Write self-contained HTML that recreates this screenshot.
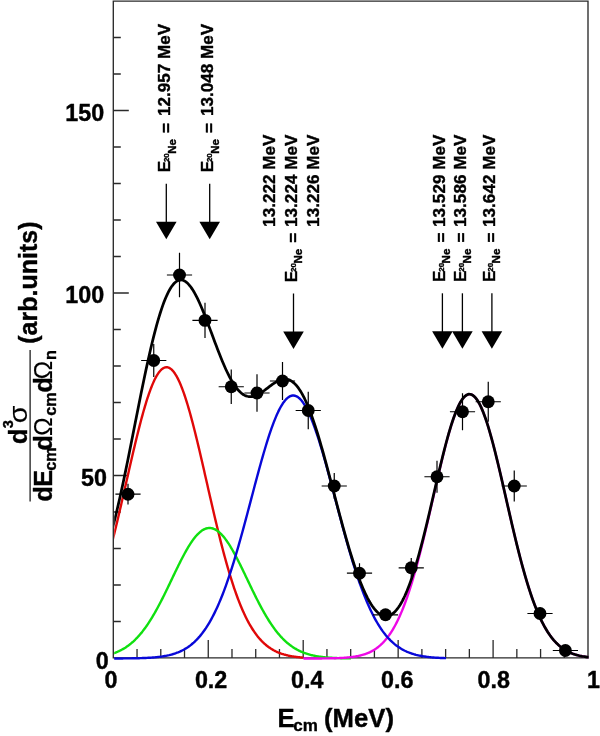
<!DOCTYPE html>
<html><head><meta charset="utf-8"><title>chart</title>
<style>
html,body{margin:0;padding:0;background:#fff;}
body{width:600px;height:736px;overflow:hidden;}
svg{display:block;will-change:transform;}
svg text{font-family:"Liberation Sans",sans-serif;font-weight:bold;fill:#000;stroke:#000;stroke-width:0.4px;stroke-linejoin:round;}
svg text.n{font-weight:normal;stroke-width:0.15px;}
</style></head><body>
<svg width="600" height="736" viewBox="0 0 600 736">
<!-- axes -->
<path d="M113.3,1.1H588.0V657.9H113.3Z" fill="none" stroke="#2a2a2a" stroke-width="1.35"/>
<path d="M137.04,657.9V648.9M160.78,657.9V648.9M184.51,657.9V648.9M208.25,657.9V639.9M231.99,657.9V648.9M255.73,657.9V648.9M279.46,657.9V648.9M303.20,657.9V639.9M326.94,657.9V648.9M350.68,657.9V648.9M374.41,657.9V648.9M398.15,657.9V639.9M421.89,657.9V648.9M445.63,657.9V648.9M469.36,657.9V648.9M493.10,657.9V639.9M516.84,657.9V648.9M540.58,657.9V648.9M564.31,657.9V648.9M113.3,621.50H120.8M113.3,585.00H120.8M113.3,548.50H120.8M113.3,512.00H120.8M113.3,475.50H128.8M113.3,439.00H120.8M113.3,402.50H120.8M113.3,366.00H120.8M113.3,329.50H120.8M113.3,293.00H128.8M113.3,256.50H120.8M113.3,220.00H120.8M113.3,183.50H120.8M113.3,147.00H120.8M113.3,110.50H128.8M113.3,74.00H120.8M113.3,37.50H120.8" stroke="#2a2a2a" stroke-width="1.3" fill="none"/>
<!-- curves -->
<g transform="translate(0,0.5)">
<defs><clipPath id="cp"><rect x="114.2" y="0" width="474.4" height="662"/></clipPath></defs><g clip-path="url(#cp)"><path d="M112.55,540.01 L113.19,537.49 L113.82,534.94 L114.46,532.36 L115.10,529.77 L115.73,527.15 L116.37,524.52 L117.01,521.87 L117.64,519.19 L118.28,516.51 L118.92,513.80 L119.55,511.08 L120.19,508.35 L120.82,505.61 L121.46,502.85 L122.10,500.08 L122.73,497.31 L123.37,494.52 L124.01,491.74 L124.64,488.94 L125.28,486.14 L125.92,483.34 L126.55,480.54 L127.19,477.74 L127.83,474.94 L128.46,472.15 L129.10,469.35 L129.74,466.57 L130.37,463.79 L131.01,461.02 L131.65,458.27 L132.28,455.52 L132.92,452.79 L133.55,450.08 L134.19,447.38 L134.83,444.70 L135.46,442.04 L136.10,439.40 L136.74,436.78 L137.37,434.20 L138.01,431.63 L138.65,429.10 L139.28,426.59 L139.92,424.12 L140.56,421.68 L141.19,419.27 L141.83,416.90 L142.47,414.57 L143.10,412.28 L143.74,410.03 L144.38,407.82 L145.01,405.65 L145.65,403.53 L146.28,401.46 L146.92,399.43 L147.56,397.46 L148.19,395.53 L148.83,393.66 L149.47,391.84 L150.10,390.07 L150.74,388.37 L151.38,386.71 L152.01,385.12 L152.65,383.59 L153.29,382.12 L153.92,380.71 L154.56,379.36 L155.20,378.08 L155.83,376.86 L156.47,375.70 L157.11,374.62 L157.74,373.60 L158.38,372.65 L159.01,371.76 L159.65,370.95 L160.29,370.21 L160.92,369.54 L161.56,368.94 L162.20,368.41 L162.83,367.95 L163.47,367.56 L164.11,367.25 L164.74,367.01 L165.38,366.85 L166.02,366.75 L166.65,366.73 L167.29,366.78 L167.93,366.91 L168.56,367.11 L169.20,367.38 L169.84,367.73 L170.47,368.15 L171.11,368.63 L171.74,369.20 L172.38,369.83 L173.02,370.53 L173.65,371.31 L174.29,372.15 L174.93,373.06 L175.56,374.05 L176.20,375.10 L176.84,376.21 L177.47,377.39 L178.11,378.64 L178.75,379.95 L179.38,381.33 L180.02,382.77 L180.66,384.27 L181.29,385.83 L181.93,387.45 L182.56,389.12 L183.20,390.86 L183.84,392.65 L184.47,394.49 L185.11,396.39 L185.75,398.34 L186.38,400.33 L187.02,402.38 L187.66,404.48 L188.29,406.62 L188.93,408.80 L189.57,411.03 L190.20,413.30 L190.84,415.61 L191.48,417.96 L192.11,420.35 L192.75,422.77 L193.39,425.22 L194.02,427.71 L194.66,430.23 L195.30,432.78 L195.93,435.35 L196.57,437.95 L197.20,440.58 L197.84,443.23 L198.48,445.89 L199.11,448.58 L199.75,451.29 L200.39,454.01 L201.02,456.75 L201.66,459.50 L202.30,462.26 L202.93,465.03 L203.57,467.82 L204.21,470.60 L204.84,473.40 L205.48,476.19 L206.12,478.99 L206.75,481.80 L207.39,484.60 L208.03,487.40 L208.66,490.19 L209.30,492.99 L209.93,495.77 L210.57,498.55 L211.21,501.32 L211.84,504.08 L212.48,506.84 L213.12,509.58 L213.75,512.30 L214.39,515.01 L215.03,517.71 L215.66,520.39 L216.30,523.06 L216.94,525.70 L217.57,528.33 L218.21,530.93 L218.85,533.52 L219.48,536.08 L220.12,538.62 L220.75,541.14 L221.39,543.63 L222.03,546.10 L222.66,548.54 L223.30,550.95 L223.94,553.34 L224.57,555.70 L225.21,558.04 L225.85,560.34 L226.48,562.61 L227.12,564.86 L227.76,567.07 L228.39,569.26 L229.03,571.41 L229.67,573.54 L230.30,575.63 L230.94,577.69 L231.58,579.72 L232.21,581.71 L232.85,583.68 L233.49,585.61 L234.12,587.51 L234.76,589.38 L235.39,591.21 L236.03,593.01 L236.67,594.78 L237.30,596.52 L237.94,598.22 L238.58,599.89 L239.21,601.53 L239.85,603.13 L240.49,604.71 L241.12,606.25 L241.76,607.76 L242.40,609.24 L243.03,610.68 L243.67,612.10 L244.31,613.48 L244.94,614.83 L245.58,616.16 L246.22,617.45 L246.85,618.71 L247.49,619.94 L248.12,621.15 L248.76,622.32 L249.40,623.47 L250.03,624.58 L250.67,625.67 L251.31,626.73 L251.94,627.77 L252.58,628.77 L253.22,629.75 L253.85,630.71 L254.49,631.64 L255.13,632.54 L255.76,633.42 L256.40,634.28 L257.04,635.11 L257.67,635.91 L258.31,636.70 L258.95,637.46 L259.58,638.20 L260.22,638.92 L260.85,639.61 L261.49,640.29 L262.13,640.94 L262.76,641.58 L263.40,642.19 L264.04,642.79 L264.67,643.36 L265.31,643.92 L265.95,644.46 L266.58,644.99 L267.22,645.49 L267.86,645.98 L268.49,646.45 L269.13,646.91 L269.77,647.35 L270.40,647.78 L271.04,648.19 L271.68,648.59 L272.31,648.97 L272.95,649.34 L273.58,649.70 L274.22,650.05 L274.86,650.38 L275.49,650.70 L276.13,651.01 L276.77,651.31 L277.40,651.59 L278.04,651.87 L278.68,652.13 L279.31,652.39 L279.95,652.63 L280.59,652.87 L281.22,653.10 L281.86,653.31 L282.50,653.52 L283.13,653.72 L283.77,653.92 L284.40,654.10 L285.04,654.28 L285.68,654.45 L286.31,654.61 L286.95,654.77 L287.59,654.92 L288.22,655.07 L288.86,655.20 L289.50,655.34 L290.13,655.46 L290.77,655.58 L291.41,655.70 L292.04,655.81 L292.68,655.92 L293.32,656.02 L293.95,656.12 L294.59,656.21 L295.23,656.30 L295.86,656.38 L296.50,656.46 L297.13,656.54 L297.77,656.61 L298.41,656.68 L299.04,656.75 L299.68,656.81 L300.32,656.88 L300.95,656.93 L301.59,656.99 L302.23,657.04 L302.86,657.09 L303.50,657.14" fill="none" stroke="#e00808" stroke-width="2.4" stroke-linejoin="round"/>
<path d="M112.55,653.17 L113.34,652.90 L114.14,652.62 L114.93,652.33 L115.73,652.02 L116.52,651.70 L117.32,651.37 L118.11,651.02 L118.91,650.66 L119.70,650.28 L120.50,649.88 L121.29,649.47 L122.09,649.04 L122.88,648.60 L123.68,648.14 L124.47,647.66 L125.27,647.16 L126.06,646.64 L126.86,646.10 L127.65,645.54 L128.45,644.96 L129.24,644.36 L130.04,643.74 L130.83,643.10 L131.63,642.43 L132.42,641.75 L133.22,641.04 L134.01,640.30 L134.81,639.55 L135.60,638.77 L136.40,637.96 L137.19,637.14 L137.98,636.28 L138.78,635.40 L139.57,634.50 L140.37,633.57 L141.16,632.62 L141.96,631.64 L142.75,630.63 L143.55,629.60 L144.34,628.55 L145.14,627.46 L145.93,626.36 L146.73,625.22 L147.52,624.06 L148.32,622.88 L149.11,621.67 L149.91,620.43 L150.70,619.17 L151.50,617.89 L152.29,616.58 L153.09,615.24 L153.88,613.89 L154.68,612.51 L155.47,611.11 L156.27,609.69 L157.06,608.24 L157.86,606.78 L158.65,605.29 L159.45,603.79 L160.24,602.27 L161.03,600.73 L161.83,599.17 L162.62,597.60 L163.42,596.02 L164.21,594.42 L165.01,592.81 L165.80,591.19 L166.60,589.56 L167.39,587.92 L168.19,586.27 L168.98,584.61 L169.78,582.95 L170.57,581.29 L171.37,579.63 L172.16,577.96 L172.96,576.29 L173.75,574.63 L174.55,572.97 L175.34,571.32 L176.14,569.67 L176.93,568.04 L177.73,566.41 L178.52,564.79 L179.32,563.19 L180.11,561.60 L180.91,560.03 L181.70,558.48 L182.50,556.95 L183.29,555.44 L184.09,553.95 L184.88,552.49 L185.67,551.06 L186.47,549.65 L187.26,548.28 L188.06,546.93 L188.85,545.62 L189.65,544.35 L190.44,543.11 L191.24,541.91 L192.03,540.75 L192.83,539.63 L193.62,538.55 L194.42,537.51 L195.21,536.52 L196.01,535.58 L196.80,534.68 L197.60,533.83 L198.39,533.04 L199.19,532.29 L199.98,531.59 L200.78,530.95 L201.57,530.36 L202.37,529.82 L203.16,529.34 L203.96,528.91 L204.75,528.54 L205.55,528.23 L206.34,527.97 L207.14,527.77 L207.93,527.62 L208.72,527.54 L209.52,527.51 L210.31,527.54 L211.11,527.63 L211.90,527.78 L212.70,527.98 L213.49,528.24 L214.29,528.56 L215.08,528.93 L215.88,529.36 L216.67,529.85 L217.47,530.39 L218.26,530.98 L219.06,531.63 L219.85,532.33 L220.65,533.08 L221.44,533.88 L222.24,534.73 L223.03,535.63 L223.83,536.58 L224.62,537.57 L225.42,538.61 L226.21,539.69 L227.01,540.81 L227.80,541.97 L228.60,543.18 L229.39,544.42 L230.19,545.70 L230.98,547.01 L231.78,548.35 L232.57,549.73 L233.36,551.14 L234.16,552.57 L234.95,554.04 L235.75,555.52 L236.54,557.03 L237.34,558.57 L238.13,560.12 L238.93,561.69 L239.72,563.28 L240.52,564.88 L241.31,566.50 L242.11,568.13 L242.90,569.76 L243.70,571.41 L244.49,573.07 L245.29,574.72 L246.08,576.39 L246.88,578.05 L247.67,579.72 L248.47,581.38 L249.26,583.05 L250.06,584.71 L250.85,586.36 L251.65,588.01 L252.44,589.65 L253.24,591.28 L254.03,592.90 L254.83,594.51 L255.62,596.11 L256.41,597.69 L257.21,599.26 L258.00,600.82 L258.80,602.35 L259.59,603.87 L260.39,605.38 L261.18,606.86 L261.98,608.32 L262.77,609.77 L263.57,611.19 L264.36,612.59 L265.16,613.96 L265.95,615.32 L266.75,616.65 L267.54,617.96 L268.34,619.24 L269.13,620.50 L269.93,621.73 L270.72,622.94 L271.52,624.13 L272.31,625.28 L273.11,626.42 L273.90,627.52 L274.70,628.61 L275.49,629.66 L276.29,630.69 L277.08,631.69 L277.88,632.67 L278.67,633.62 L279.47,634.55 L280.26,635.45 L281.05,636.33 L281.85,637.18 L282.64,638.01 L283.44,638.81 L284.23,639.59 L285.03,640.35 L285.82,641.08 L286.62,641.79 L287.41,642.47 L288.21,643.14 L289.00,643.78 L289.80,644.40 L290.59,644.99 L291.39,645.57 L292.18,646.13 L292.98,646.67 L293.77,647.18 L294.57,647.68 L295.36,648.16 L296.16,648.62 L296.95,649.07 L297.75,649.50 L298.54,649.91 L299.34,650.30 L300.13,650.68 L300.93,651.04 L301.72,651.39 L302.52,651.72 L303.31,652.04 L304.10,652.34 L304.90,652.63 L305.69,652.91 L306.49,653.18 L307.28,653.43 L308.08,653.68 L308.87,653.91 L309.67,654.13 L310.46,654.34 L311.26,654.54 L312.05,654.73 L312.85,654.92 L313.64,655.09 L314.44,655.25 L315.23,655.41 L316.03,655.56 L316.82,655.70 L317.62,655.83 L318.41,655.96 L319.21,656.08 L320.00,656.20 L320.80,656.30 L321.59,656.41 L322.39,656.50 L323.18,656.60 L323.98,656.68 L324.77,656.76 L325.57,656.84 L326.36,656.91 L327.15,656.98 L327.95,657.05 L328.74,657.11 L329.54,657.17 L330.33,657.22 L331.13,657.27 L331.92,657.32 L332.72,657.36 L333.51,657.41 L334.31,657.45 L335.10,657.48 L335.90,657.52 L336.69,657.55 L337.49,657.58 L338.28,657.61 L339.08,657.64 L339.87,657.66 L340.67,657.69 L341.46,657.71 L342.26,657.73 L343.05,657.75 L343.85,657.77 L344.64,657.78 L345.44,657.80 L346.23,657.81 L347.03,657.83 L347.82,657.84 L348.62,657.85 L349.41,657.86 L350.21,657.87 L351.00,657.88" fill="none" stroke="#10e010" stroke-width="2.4" stroke-linejoin="round"/>
<path d="M303.50,657.99 L304.45,657.99 L305.40,657.99 L306.35,657.99 L307.30,657.99 L308.25,657.98 L309.20,657.98 L310.15,657.98 L311.10,657.98 L312.05,657.98 L313.00,657.97 L313.95,657.97 L314.90,657.97 L315.85,657.96 L316.80,657.96 L317.75,657.95 L318.70,657.95 L319.65,657.94 L320.60,657.94 L321.55,657.93 L322.50,657.92 L323.45,657.91 L324.40,657.90 L325.35,657.89 L326.30,657.88 L327.25,657.87 L328.20,657.85 L329.15,657.84 L330.10,657.82 L331.05,657.80 L332.00,657.78 L332.95,657.76 L333.90,657.74 L334.85,657.71 L335.80,657.68 L336.75,657.65 L337.70,657.61 L338.65,657.58 L339.60,657.53 L340.55,657.49 L341.50,657.44 L342.45,657.39 L343.40,657.33 L344.35,657.27 L345.30,657.20 L346.25,657.12 L347.20,657.04 L348.15,656.96 L349.10,656.86 L350.05,656.76 L351.00,656.65 L351.95,656.53 L352.90,656.40 L353.85,656.27 L354.80,656.12 L355.75,655.96 L356.70,655.78 L357.65,655.60 L358.60,655.40 L359.55,655.19 L360.50,654.96 L361.45,654.71 L362.40,654.45 L363.35,654.17 L364.30,653.87 L365.25,653.55 L366.20,653.21 L367.15,652.84 L368.10,652.46 L369.05,652.04 L370.00,651.60 L370.95,651.13 L371.90,650.63 L372.85,650.10 L373.80,649.54 L374.75,648.95 L375.70,648.32 L376.65,647.65 L377.60,646.94 L378.55,646.20 L379.50,645.41 L380.45,644.58 L381.40,643.70 L382.35,642.78 L383.30,641.81 L384.25,640.79 L385.20,639.71 L386.15,638.59 L387.10,637.40 L388.05,636.16 L389.00,634.86 L389.95,633.50 L390.90,632.08 L391.85,630.59 L392.80,629.04 L393.75,627.42 L394.70,625.73 L395.65,623.97 L396.60,622.14 L397.55,620.24 L398.50,618.26 L399.45,616.21 L400.40,614.08 L401.35,611.88 L402.30,609.59 L403.25,607.23 L404.20,604.79 L405.15,602.27 L406.10,599.67 L407.05,596.99 L408.00,594.23 L408.95,591.39 L409.90,588.47 L410.85,585.47 L411.80,582.40 L412.75,579.24 L413.70,576.01 L414.65,572.71 L415.60,569.33 L416.55,565.88 L417.50,562.37 L418.45,558.78 L419.40,555.14 L420.35,551.43 L421.30,547.66 L422.25,543.83 L423.20,539.95 L424.15,536.03 L425.10,532.06 L426.05,528.04 L427.00,523.99 L427.95,519.91 L428.90,515.80 L429.85,511.67 L430.80,507.52 L431.75,503.35 L432.70,499.18 L433.65,495.01 L434.60,490.84 L435.55,486.67 L436.50,482.53 L437.45,478.41 L438.40,474.31 L439.35,470.25 L440.30,466.23 L441.25,462.25 L442.20,458.33 L443.15,454.47 L444.10,450.67 L445.05,446.95 L446.00,443.30 L446.95,439.74 L447.90,436.28 L448.85,432.90 L449.80,429.64 L450.75,426.48 L451.70,423.44 L452.65,420.52 L453.60,417.72 L454.55,415.06 L455.50,412.53 L456.45,410.15 L457.40,407.91 L458.35,405.83 L459.30,403.89 L460.25,402.12 L461.20,400.51 L462.15,399.07 L463.10,397.79 L464.05,396.69 L465.00,395.75 L465.95,395.00 L466.90,394.42 L467.85,394.01 L468.80,393.79 L469.75,393.75 L470.70,393.88 L471.65,394.19 L472.60,394.68 L473.55,395.35 L474.50,396.20 L475.45,397.22 L476.40,398.41 L477.35,399.77 L478.30,401.30 L479.25,402.99 L480.20,404.84 L481.15,406.85 L482.10,409.01 L483.05,411.32 L484.00,413.78 L484.95,416.37 L485.90,419.10 L486.85,421.96 L487.80,424.94 L488.75,428.04 L489.70,431.26 L490.65,434.58 L491.60,438.00 L492.55,441.51 L493.50,445.12 L494.45,448.80 L495.40,452.56 L496.35,456.39 L497.30,460.29 L498.25,464.23 L499.20,468.23 L500.15,472.28 L501.10,476.35 L502.05,480.47 L503.00,484.60 L503.95,488.75 L504.90,492.92 L505.85,497.09 L506.80,501.27 L507.75,505.43 L508.70,509.59 L509.65,513.74 L510.60,517.86 L511.55,521.96 L512.50,526.02 L513.45,530.05 L514.40,534.05 L515.35,538.00 L516.30,541.90 L517.25,545.75 L518.20,549.55 L519.15,553.29 L520.10,556.97 L521.05,560.58 L522.00,564.13 L522.95,567.62 L523.90,571.03 L524.85,574.37 L525.80,577.64 L526.75,580.83 L527.70,583.94 L528.65,586.98 L529.60,589.94 L530.55,592.82 L531.50,595.62 L532.45,598.34 L533.40,600.98 L534.35,603.54 L535.30,606.02 L536.25,608.42 L537.20,610.75 L538.15,612.99 L539.10,615.16 L540.05,617.25 L541.00,619.26 L541.95,621.20 L542.90,623.07 L543.85,624.86 L544.80,626.58 L545.75,628.24 L546.70,629.82 L547.65,631.34 L548.60,632.80 L549.55,634.19 L550.50,635.52 L551.45,636.79 L552.40,638.00 L553.35,639.16 L554.30,640.26 L555.25,641.31 L556.20,642.30 L557.15,643.25 L558.10,644.15 L559.05,645.00 L560.00,645.81 L560.95,646.58 L561.90,647.30 L562.85,647.99 L563.80,648.64 L564.75,649.25 L565.70,649.83 L566.65,650.37 L567.60,650.89 L568.55,651.37 L569.50,651.82 L570.45,652.25 L571.40,652.65 L572.35,653.03 L573.30,653.38 L574.25,653.71 L575.20,654.02 L576.15,654.31 L577.10,654.59 L578.05,654.84 L579.00,655.08 L579.95,655.30 L580.90,655.50 L581.85,655.69 L582.80,655.87 L583.75,656.04 L584.70,656.19 L585.65,656.34 L586.60,656.47 L587.55,656.59 L588.50,656.71" fill="none" stroke="#ee08e6" stroke-width="2.4" stroke-linejoin="round"/>
<path d="M112.55,657.97 L113.66,657.97 L114.77,657.97 L115.88,657.96 L117.00,657.96 L118.11,657.96 L119.22,657.95 L120.33,657.94 L121.44,657.94 L122.55,657.93 L123.66,657.92 L124.78,657.91 L125.89,657.90 L127.00,657.89 L128.11,657.88 L129.22,657.87 L130.33,657.86 L131.45,657.84 L132.56,657.82 L133.67,657.80 L134.78,657.78 L135.89,657.76 L137.00,657.74 L138.11,657.71 L139.23,657.68 L140.34,657.65 L141.45,657.61 L142.56,657.57 L143.67,657.53 L144.78,657.49 L145.89,657.43 L147.01,657.38 L148.12,657.32 L149.23,657.26 L150.34,657.19 L151.45,657.11 L152.56,657.03 L153.68,656.94 L154.79,656.84 L155.90,656.74 L157.01,656.62 L158.12,656.50 L159.23,656.37 L160.34,656.22 L161.46,656.07 L162.57,655.90 L163.68,655.72 L164.79,655.53 L165.90,655.32 L167.01,655.10 L168.12,654.86 L169.24,654.61 L170.35,654.33 L171.46,654.04 L172.57,653.73 L173.68,653.39 L174.79,653.03 L175.91,652.65 L177.02,652.24 L178.13,651.81 L179.24,651.35 L180.35,650.86 L181.46,650.33 L182.57,649.78 L183.69,649.19 L184.80,648.56 L185.91,647.90 L187.02,647.20 L188.13,646.46 L189.24,645.67 L190.36,644.84 L191.47,643.97 L192.58,643.04 L193.69,642.07 L194.80,641.05 L195.91,639.97 L197.02,638.84 L198.14,637.65 L199.25,636.41 L200.36,635.10 L201.47,633.73 L202.58,632.30 L203.69,630.80 L204.80,629.23 L205.92,627.60 L207.03,625.89 L208.14,624.11 L209.25,622.26 L210.36,620.34 L211.47,618.34 L212.58,616.26 L213.70,614.10 L214.81,611.87 L215.92,609.55 L217.03,607.15 L218.14,604.68 L219.25,602.12 L220.37,599.47 L221.48,596.75 L222.59,593.94 L223.70,591.06 L224.81,588.09 L225.92,585.04 L227.03,581.91 L228.15,578.70 L229.26,575.42 L230.37,572.06 L231.48,568.62 L232.59,565.11 L233.70,561.54 L234.81,557.89 L235.93,554.18 L237.04,550.41 L238.15,546.57 L239.26,542.68 L240.37,538.74 L241.48,534.75 L242.60,530.72 L243.71,526.65 L244.82,522.54 L245.93,518.40 L247.04,514.23 L248.15,510.04 L249.26,505.84 L250.38,501.63 L251.49,497.41 L252.60,493.20 L253.71,488.99 L254.82,484.79 L255.93,480.62 L257.04,476.47 L258.16,472.36 L259.27,468.28 L260.38,464.25 L261.49,460.27 L262.60,456.36 L263.71,452.50 L264.83,448.73 L265.94,445.03 L267.05,441.41 L268.16,437.89 L269.27,434.47 L270.38,431.15 L271.49,427.95 L272.61,424.86 L273.72,421.90 L274.83,419.07 L275.94,416.37 L277.05,413.81 L278.16,411.40 L279.27,409.14 L280.39,407.03 L281.50,405.08 L282.61,403.29 L283.72,401.67 L284.83,400.22 L285.94,398.95 L287.06,397.85 L288.17,396.93 L289.28,396.18 L290.39,395.62 L291.50,395.24 L292.61,395.05 L293.72,395.03 L294.84,395.21 L295.95,395.56 L297.06,396.10 L298.17,396.82 L299.28,397.72 L300.39,398.80 L301.50,400.05 L302.62,401.48 L303.73,403.08 L304.84,404.84 L305.95,406.77 L307.06,408.86 L308.17,411.10 L309.29,413.49 L310.40,416.03 L311.51,418.71 L312.62,421.53 L313.73,424.48 L314.84,427.55 L315.95,430.74 L317.07,434.04 L318.18,437.45 L319.29,440.96 L320.40,444.56 L321.51,448.25 L322.62,452.02 L323.74,455.86 L324.85,459.77 L325.96,463.74 L327.07,467.76 L328.18,471.83 L329.29,475.94 L330.40,480.09 L331.52,484.26 L332.63,488.45 L333.74,492.66 L334.85,496.87 L335.96,501.09 L337.07,505.30 L338.18,509.51 L339.30,513.70 L340.41,517.86 L341.52,522.01 L342.63,526.12 L343.74,530.20 L344.85,534.24 L345.96,538.23 L347.08,542.18 L348.19,546.08 L349.30,549.92 L350.41,553.70 L351.52,557.42 L352.63,561.07 L353.75,564.66 L354.86,568.18 L355.97,571.62 L357.08,574.99 L358.19,578.29 L359.30,581.50 L360.41,584.64 L361.53,587.70 L362.64,590.68 L363.75,593.58 L364.86,596.40 L365.97,599.13 L367.08,601.78 L368.19,604.35 L369.31,606.84 L370.42,609.25 L371.53,611.57 L372.64,613.82 L373.75,615.99 L374.86,618.08 L375.98,620.09 L377.09,622.02 L378.20,623.88 L379.31,625.67 L380.42,627.38 L381.53,629.03 L382.64,630.60 L383.76,632.11 L384.87,633.55 L385.98,634.93 L387.09,636.24 L388.20,637.50 L389.31,638.69 L390.42,639.83 L391.54,640.91 L392.65,641.94 L393.76,642.92 L394.87,643.85 L395.98,644.73 L397.09,645.57 L398.21,646.36 L399.32,647.10 L400.43,647.81 L401.54,648.48 L402.65,649.11 L403.76,649.70 L404.87,650.26 L405.99,650.79 L407.10,651.29 L408.21,651.75 L409.32,652.19 L410.43,652.60 L411.54,652.99 L412.66,653.35 L413.77,653.69 L414.88,654.00 L415.99,654.30 L417.10,654.57 L418.21,654.83 L419.32,655.07 L420.44,655.30 L421.55,655.51 L422.66,655.70 L423.77,655.88 L424.88,656.05 L425.99,656.20 L427.10,656.35 L428.22,656.48 L429.33,656.61 L430.44,656.72 L431.55,656.83 L432.66,656.93 L433.77,657.02 L434.88,657.10 L436.00,657.18 L437.11,657.25 L438.22,657.31 L439.33,657.37 L440.44,657.43 L441.55,657.48 L442.67,657.53 L443.78,657.57 L444.89,657.61 L446.00,657.64" fill="none" stroke="#0808d8" stroke-width="2.4" stroke-linejoin="round"/>
<path d="M112.55,527.35 L113.74,522.81 L114.93,518.12 L116.13,513.28 L117.32,508.29 L118.51,503.18 L119.70,497.93 L120.90,492.57 L122.09,487.11 L123.28,481.54 L124.47,475.88 L125.66,470.15 L126.86,464.34 L128.05,458.47 L129.24,452.54 L130.43,446.58 L131.63,440.57 L132.82,434.55 L134.01,428.51 L135.20,422.47 L136.39,416.44 L137.59,410.42 L138.78,404.43 L139.97,398.48 L141.16,392.57 L142.36,386.73 L143.55,380.95 L144.74,375.25 L145.93,369.64 L147.13,364.12 L148.32,358.72 L149.51,353.43 L150.70,348.26 L151.89,343.23 L153.09,338.35 L154.28,333.61 L155.47,329.04 L156.66,324.64 L157.86,320.40 L159.05,316.35 L160.24,312.49 L161.43,308.83 L162.62,305.36 L163.82,302.09 L165.01,299.04 L166.20,296.20 L167.39,293.57 L168.59,291.17 L169.78,288.98 L170.97,287.02 L172.16,285.29 L173.35,283.78 L174.55,282.50 L175.74,281.44 L176.93,280.61 L178.12,280.00 L179.32,279.62 L180.51,279.45 L181.70,279.50 L182.89,279.76 L184.09,280.22 L185.28,280.90 L186.47,281.77 L187.66,282.83 L188.85,284.08 L190.05,285.51 L191.24,287.11 L192.43,288.88 L193.62,290.80 L194.82,292.88 L196.01,295.10 L197.20,297.45 L198.39,299.92 L199.58,302.51 L200.78,305.21 L201.97,308.00 L203.16,310.88 L204.35,313.83 L205.55,316.85 L206.74,319.93 L207.93,323.05 L209.12,326.21 L210.31,329.39 L211.51,332.59 L212.70,335.79 L213.89,338.99 L215.08,342.18 L216.28,345.34 L217.47,348.47 L218.66,351.55 L219.85,354.59 L221.04,357.56 L222.24,360.47 L223.43,363.30 L224.62,366.05 L225.81,368.70 L227.01,371.26 L228.20,373.71 L229.39,376.06 L230.58,378.29 L231.78,380.40 L232.97,382.38 L234.16,384.24 L235.35,385.97 L236.54,387.56 L237.74,389.02 L238.93,390.34 L240.12,391.53 L241.31,392.57 L242.51,393.48 L243.70,394.25 L244.89,394.89 L246.08,395.40 L247.27,395.77 L248.47,396.02 L249.66,396.15 L250.85,396.16 L252.04,396.06 L253.24,395.85 L254.43,395.54 L255.62,395.13 L256.81,394.63 L258.00,394.06 L259.20,393.41 L260.39,392.70 L261.58,391.93 L262.77,391.11 L263.97,390.25 L265.16,389.36 L266.35,388.46 L267.54,387.54 L268.73,386.61 L269.93,385.70 L271.12,384.80 L272.31,383.93 L273.50,383.09 L274.70,382.30 L275.89,381.56 L277.08,380.89 L278.27,380.29 L279.47,379.76 L280.66,379.33 L281.85,378.99 L283.04,378.75 L284.23,378.63 L285.43,378.62 L286.62,378.74 L287.81,378.98 L289.00,379.36 L290.20,379.88 L291.39,380.54 L292.58,381.35 L293.77,382.31 L294.96,383.42 L296.16,384.69 L297.35,386.12 L298.54,387.70 L299.73,389.44 L300.93,391.34 L302.12,393.40 L303.31,395.61 L304.50,397.98 L305.69,400.50 L306.89,403.17 L308.08,405.99 L309.27,408.95 L310.46,412.04 L311.66,415.28 L312.85,418.64 L314.04,422.12 L315.23,425.73 L316.42,429.44 L317.62,433.26 L318.81,437.18 L320.00,441.20 L321.19,445.30 L322.39,449.48 L323.58,453.73 L324.77,458.04 L325.96,462.41 L327.15,466.83 L328.35,471.29 L329.54,475.78 L330.73,480.30 L331.92,484.84 L333.12,489.39 L334.31,493.94 L335.50,498.49 L336.69,503.03 L337.89,507.55 L339.08,512.04 L340.27,516.50 L341.46,520.93 L342.65,525.31 L343.85,529.63 L345.04,533.90 L346.23,538.11 L347.42,542.25 L348.62,546.31 L349.81,550.30 L351.00,554.20 L352.19,558.02 L353.38,561.74 L354.58,565.36 L355.77,568.88 L356.96,572.30 L358.15,575.61 L359.35,578.81 L360.54,581.89 L361.73,584.85 L362.92,587.70 L364.11,590.41 L365.31,593.01 L366.50,595.47 L367.69,597.80 L368.88,600.00 L370.08,602.06 L371.27,603.99 L372.46,605.77 L373.65,607.42 L374.85,608.92 L376.04,610.27 L377.23,611.48 L378.42,612.54 L379.61,613.45 L380.81,614.21 L382.00,614.82 L383.19,615.27 L384.38,615.57 L385.58,615.71 L386.77,615.69 L387.96,615.51 L389.15,615.17 L390.34,614.67 L391.54,614.00 L392.73,613.17 L393.92,612.18 L395.11,611.02 L396.31,609.70 L397.50,608.20 L398.69,606.55 L399.88,604.72 L401.07,602.73 L402.27,600.57 L403.46,598.25 L404.65,595.76 L405.84,593.10 L407.04,590.29 L408.23,587.31 L409.42,584.18 L410.61,580.89 L411.80,577.45 L413.00,573.86 L414.19,570.13 L415.38,566.25 L416.57,562.24 L417.77,558.10 L418.96,553.84 L420.15,549.45 L421.34,544.95 L422.54,540.35 L423.73,535.65 L424.92,530.87 L426.11,526.00 L427.30,521.06 L428.50,516.06 L429.69,511.01 L430.88,505.93 L432.07,500.81 L433.27,495.67 L434.46,490.53 L435.65,485.39 L436.84,480.27 L438.03,475.19 L439.23,470.14 L440.42,465.16 L441.61,460.24 L442.80,455.40 L444.00,450.66 L445.19,446.03 L446.38,441.52 L447.57,437.15 L448.76,432.92 L449.96,428.86 L451.15,424.96 L452.34,421.25 L453.53,417.73 L454.73,414.42 L455.92,411.32 L457.11,408.45 L458.30,405.81 L459.49,403.41 L460.69,401.27 L461.88,399.38 L463.07,397.75 L464.26,396.39 L465.46,395.31 L466.65,394.50 L467.84,393.97 L469.03,393.72 L470.23,393.75 L471.42,394.07 L472.61,394.66 L473.80,395.53 L474.99,396.68 L476.19,398.11 L477.38,399.79 L478.57,401.75 L479.76,403.96 L480.96,406.41 L482.15,409.11 L483.34,412.05 L484.53,415.21 L485.72,418.58 L486.92,422.16 L488.11,425.93 L489.30,429.89 L490.49,434.02 L491.69,438.31 L492.88,442.74 L494.07,447.32 L495.26,452.01 L496.45,456.82 L497.65,461.72 L498.84,466.71 L500.03,471.77 L501.22,476.89 L502.42,482.05 L503.61,487.26 L504.80,492.48 L505.99,497.72 L507.18,502.95 L508.38,508.18 L509.57,513.38 L510.76,518.56 L511.95,523.69 L513.15,528.77 L514.34,533.79 L515.53,538.74 L516.72,543.62 L517.91,548.41 L519.11,553.12 L520.30,557.73 L521.49,562.24 L522.68,566.65 L523.88,570.95 L525.07,575.13 L526.26,579.19 L527.45,583.14 L528.65,586.97 L529.84,590.67 L531.03,594.24 L532.22,597.69 L533.41,601.02 L534.61,604.22 L535.80,607.29 L536.99,610.24 L538.18,613.07 L539.38,615.77 L540.57,618.35 L541.76,620.82 L542.95,623.17 L544.14,625.40 L545.34,627.53 L546.53,629.54 L547.72,631.46 L548.91,633.26 L550.11,634.98 L551.30,636.59 L552.49,638.11 L553.68,639.55 L554.87,640.90 L556.07,642.17 L557.26,643.35 L558.45,644.47 L559.64,645.51 L560.84,646.49 L562.03,647.40 L563.22,648.25 L564.41,649.04 L565.61,649.77 L566.80,650.45 L567.99,651.09 L569.18,651.67 L570.37,652.22 L571.57,652.72 L572.76,653.18 L573.95,653.61 L575.14,654.01 L576.34,654.37 L577.53,654.70 L578.72,655.01 L579.91,655.29 L581.10,655.54 L582.30,655.78 L583.49,655.99 L584.68,656.19 L585.87,656.37 L587.07,656.53 L588.26,656.68 L589.45,656.81" fill="none" stroke="#000" stroke-width="2.75" stroke-linejoin="round"/></g>
<!-- points -->
<path d="M115.40,493.70H140.60M128.00,483.30V504.10" stroke="#000" stroke-width="1.2" fill="none"/>
<circle cx="128.00" cy="493.70" r="6.45" fill="#000"/>
<path d="M141.15,360.00H166.35M153.75,343.40V376.60" stroke="#000" stroke-width="1.2" fill="none"/>
<circle cx="153.75" cy="360.00" r="6.45" fill="#000"/>
<path d="M166.90,274.50H192.10M179.50,252.30V296.70" stroke="#000" stroke-width="1.2" fill="none"/>
<circle cx="179.50" cy="274.50" r="6.45" fill="#000"/>
<path d="M192.40,319.90H217.60M205.00,302.30V337.50" stroke="#000" stroke-width="1.2" fill="none"/>
<circle cx="205.00" cy="319.90" r="6.45" fill="#000"/>
<path d="M218.65,386.25H243.85M231.25,368.95V403.55" stroke="#000" stroke-width="1.2" fill="none"/>
<circle cx="231.25" cy="386.25" r="6.45" fill="#000"/>
<path d="M244.40,392.50H269.60M257.00,373.75V411.25" stroke="#000" stroke-width="1.2" fill="none"/>
<circle cx="257.00" cy="392.50" r="6.45" fill="#000"/>
<path d="M269.90,380.50H295.10M282.50,361.50V399.50" stroke="#000" stroke-width="1.2" fill="none"/>
<circle cx="282.50" cy="380.50" r="6.45" fill="#000"/>
<path d="M295.65,410.00H320.85M308.25,391.25V428.75" stroke="#000" stroke-width="1.2" fill="none"/>
<circle cx="308.25" cy="410.00" r="6.45" fill="#000"/>
<path d="M321.65,485.50H346.85M334.25,472.50V498.50" stroke="#000" stroke-width="1.2" fill="none"/>
<circle cx="334.25" cy="485.50" r="6.45" fill="#000"/>
<path d="M346.90,572.70H372.10M359.50,562.70V582.70" stroke="#000" stroke-width="1.2" fill="none"/>
<circle cx="359.50" cy="572.70" r="6.45" fill="#000"/>
<path d="M372.90,614.30H398.10M385.50,609.30V619.30" stroke="#000" stroke-width="1.2" fill="none"/>
<circle cx="385.50" cy="614.30" r="6.45" fill="#000"/>
<path d="M398.65,567.30H423.85M411.25,557.50V577.10" stroke="#000" stroke-width="1.2" fill="none"/>
<circle cx="411.25" cy="567.30" r="6.45" fill="#000"/>
<path d="M424.40,476.25H449.60M437.00,460.25V492.25" stroke="#000" stroke-width="1.2" fill="none"/>
<circle cx="437.00" cy="476.25" r="6.45" fill="#000"/>
<path d="M449.90,411.25H475.10M462.50,392.85V429.65" stroke="#000" stroke-width="1.2" fill="none"/>
<circle cx="462.50" cy="411.25" r="6.45" fill="#000"/>
<path d="M475.65,401.25H500.85M488.25,381.15V421.35" stroke="#000" stroke-width="1.2" fill="none"/>
<circle cx="488.25" cy="401.25" r="6.45" fill="#000"/>
<path d="M501.65,485.50H526.85M514.25,469.90V501.10" stroke="#000" stroke-width="1.2" fill="none"/>
<circle cx="514.25" cy="485.50" r="6.45" fill="#000"/>
<path d="M527.40,613.00H552.60M540.00,607.00V619.00" stroke="#000" stroke-width="1.2" fill="none"/>
<circle cx="540.00" cy="613.00" r="6.45" fill="#000"/>
<path d="M552.80,650.00H578.00M565.40,647.00V653.00" stroke="#000" stroke-width="1.2" fill="none"/>
<circle cx="565.40" cy="650.00" r="6.45" fill="#000"/>
</g>
<!-- tick labels -->
<text x="104.38" y="687.90" font-size="23.30">0</text>
<text x="194.88" y="687.90" font-size="23.30">0.2</text>
<text x="291.08" y="687.90" font-size="23.30">0.4</text>
<text x="381.08" y="687.90" font-size="23.30">0.6</text>
<text x="477.58" y="687.90" font-size="23.30">0.8</text>
<text x="587.03" y="687.90" font-size="23.30">1</text>
<text x="65.23" y="121.30" font-size="23.30">150</text>
<text x="65.23" y="303.40" font-size="23.30">100</text>
<text x="80.98" y="486.30" font-size="23.30">50</text>
<text x="95.68" y="668.80" font-size="23.30">0</text>
<!-- annotations -->
<g transform="translate(170.3,171.2) rotate(-90)"><text x="-1.14" y="0.00" font-size="17.10">E</text><text x="9.12" y="-1.40" font-size="8.00">20</text><text x="17.42" y="5.30" font-size="11.60">Ne</text><text x="38.19" y="1.80" font-size="17.10">=</text><text x="55.12" y="0.00" font-size="17.10">12.957 MeV</text></g>
<g transform="translate(213.2,171.2) rotate(-90)"><text x="-1.14" y="0.00" font-size="17.10">E</text><text x="9.12" y="-1.40" font-size="8.00">20</text><text x="17.42" y="5.30" font-size="11.60">Ne</text><text x="38.19" y="1.80" font-size="17.10">=</text><text x="55.12" y="0.00" font-size="17.10">13.048 MeV</text></g>
<g transform="translate(275.4,225.8) rotate(-90)"><text x="-1.08" y="0.00" font-size="17.10">13.222 MeV</text></g>
<g transform="translate(297.0,281.0) rotate(-90)"><text x="-1.14" y="0.00" font-size="17.10">E</text><text x="9.12" y="-1.40" font-size="8.00">20</text><text x="17.42" y="5.30" font-size="11.60">Ne</text><text x="38.19" y="1.80" font-size="17.10">=</text><text x="54.12" y="0.00" font-size="17.10">13.224 MeV</text></g>
<g transform="translate(318.8,225.8) rotate(-90)"><text x="-1.08" y="0.00" font-size="17.10">13.226 MeV</text></g>
<g transform="translate(445.0,280.8) rotate(-90)"><text x="-1.14" y="0.00" font-size="17.10">E</text><text x="9.12" y="-1.40" font-size="8.00">20</text><text x="17.42" y="5.30" font-size="11.60">Ne</text><text x="38.19" y="1.80" font-size="17.10">=</text><text x="53.92" y="0.00" font-size="17.10">13.529 MeV</text></g>
<g transform="translate(465.6,280.8) rotate(-90)"><text x="-1.14" y="0.00" font-size="17.10">E</text><text x="9.12" y="-1.40" font-size="8.00">20</text><text x="17.42" y="5.30" font-size="11.60">Ne</text><text x="38.19" y="1.80" font-size="17.10">=</text><text x="53.92" y="0.00" font-size="17.10">13.586 MeV</text></g>
<g transform="translate(494.7,280.8) rotate(-90)"><text x="-1.14" y="0.00" font-size="17.10">E</text><text x="9.12" y="-1.40" font-size="8.00">20</text><text x="17.42" y="5.30" font-size="11.60">Ne</text><text x="38.19" y="1.80" font-size="17.10">=</text><text x="53.92" y="0.00" font-size="17.10">13.642 MeV</text></g>
<path d="M166.3,183.7V222.7" stroke="#000" stroke-width="1.3"/><path d="M156.0,221.7L176.6,221.7L166.3,239.2Z" fill="#000"/>
<path d="M209.7,183.7V222.7" stroke="#000" stroke-width="1.3"/><path d="M199.4,221.7L220.0,221.7L209.7,239.2Z" fill="#000"/>
<path d="M293.5,293.5V332.5" stroke="#000" stroke-width="1.3"/><path d="M283.2,331.5L303.8,331.5L293.5,349.0Z" fill="#000"/>
<path d="M442.4,293.3V332.3" stroke="#000" stroke-width="1.3"/><path d="M432.1,331.3L452.7,331.3L442.4,348.8Z" fill="#000"/>
<path d="M462.4,293.3V332.3" stroke="#000" stroke-width="1.3"/><path d="M452.1,331.3L472.7,331.3L462.4,348.8Z" fill="#000"/>
<path d="M491.9,293.3V332.3" stroke="#000" stroke-width="1.3"/><path d="M481.6,331.3L502.2,331.3L491.9,348.8Z" fill="#000"/>
<!-- titles -->
<text x="277.38" y="727.20" font-size="25.70">E</text><text x="293.34" y="731.40" font-size="17.00">cm</text><text x="324.02" y="727.20" font-size="25.70">(MeV)</text>
<g transform="translate(37.3,0) rotate(-90)"><text x="-343.75" y="0.00" font-size="25.00">(arb.units)</text></g><path d="M30.1,350V501.5" stroke="#000" stroke-width="1.15"/><g transform="translate(26.6,443) rotate(-90)"><text x="-1.03" y="0.00" font-size="25.00">d</text><text x="14.67" y="-13.40" font-size="14.50">3</text><g transform="translate(21,0) scale(1.14,1)"><text x="-1.05" y="0.00" font-size="25.00" class="n">σ</text></g></g><g transform="translate(51.6,501.5) rotate(-90)"><text x="-0.03" y="0.00" font-size="25.00">d</text><text x="14.83" y="0.00" font-size="25.00">E</text><text x="30.87" y="4.60" font-size="16.20">cm</text><text x="50.97" y="0.00" font-size="25.00">d</text><text x="65.44" y="0.00" font-size="25.00" class="n">Ω</text><text x="85.87" y="4.60" font-size="16.20">cm</text><text x="108.97" y="0.00" font-size="25.00">d</text><text x="121.94" y="0.00" font-size="25.00" class="n">Ω</text><text x="141.43" y="4.60" font-size="16.20">n</text></g>
</svg>
</body></html>
